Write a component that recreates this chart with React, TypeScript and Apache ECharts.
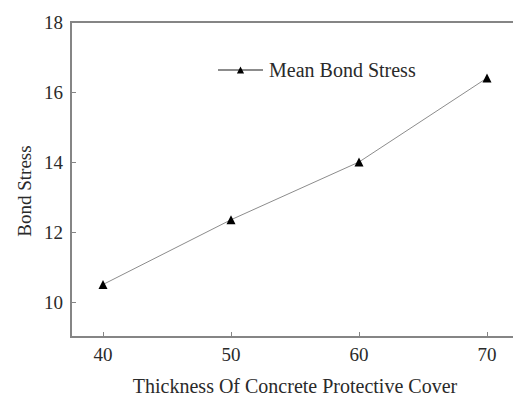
import React, { useEffect, useRef } from "react";
import * as echarts from "echarts";

// Mean bond stress vs. thickness of concrete protective cover
const thickness = [40, 50, 60, 70];
const bondStress = [10.5, 12.35, 14.0, 16.4];
const xTicks = [40, 50, 60, 70];
const yTicks = [10, 12, 14, 16, 18];
const seriesName = "Mean Bond Stress";
const xTitle = "Thickness Of Concrete Protective Cover";
const yTitle = "Bond Stress";

const FONT = "'Liberation Serif', 'Times New Roman', serif";
const AXIS_COLOR = "#858585";
const TEXT_COLOR = "#2a2a2a";

export default function App() {
  const ref = useRef<HTMLDivElement>(null);

  useEffect(() => {
    if (!ref.current) return;
    const chart = echarts.init(ref.current, undefined, { renderer: "svg" });
    chart.setOption({
      animation: false,
      backgroundColor: "#ffffff",
      grid: {
        left: 71,
        top: 22,
        right: 0,
        bottom: 59,
        show: true,
        borderColor: AXIS_COLOR,
        borderWidth: 2,
        backgroundColor: "transparent",
      },
      legend: {
        left: 217,
        top: 60,
        padding: 0,
        itemWidth: 45,
        itemHeight: 9,
        textStyle: { fontFamily: FONT, fontSize: 20, color: TEXT_COLOR, padding: [0, 0, 0, 1] },
        data: [seriesName],
      },
      xAxis: {
        type: "value",
        min: 37.5,
        max: 72.5,
        axisLine: { lineStyle: { color: AXIS_COLOR, width: 2 } },
        axisTick: {
          inside: true,
          length: 5,
          lineStyle: { color: AXIS_COLOR, width: 1 },
          customValues: xTicks,
        },
        axisLabel: {
          margin: 8,
          fontFamily: FONT,
          fontSize: 19,
          color: TEXT_COLOR,
          customValues: xTicks,
        },
        splitLine: { show: false },
      },
      yAxis: {
        type: "value",
        min: 9,
        max: 18,
        axisLine: { show: true, lineStyle: { color: AXIS_COLOR, width: 2 } },
        axisTick: {
          show: true,
          inside: true,
          length: 5,
          lineStyle: { color: AXIS_COLOR, width: 1 },
          customValues: yTicks,
        },
        axisLabel: {
          margin: 8,
          fontFamily: FONT,
          fontSize: 19,
          color: TEXT_COLOR,
          customValues: yTicks,
        },
        splitLine: { show: false },
      },
      graphic: [
        {
          type: "text",
          x: 295,
          y: 386,
          style: {
            text: xTitle,
            fontFamily: FONT,
            fontSize: 20,
            fill: TEXT_COLOR,
            textAlign: "center",
            textVerticalAlign: "middle",
          },
        },
        {
          type: "text",
          x: 24,
          y: 191,
          rotation: Math.PI / 2,
          style: {
            text: yTitle,
            fontFamily: FONT,
            fontSize: 19,
            fill: TEXT_COLOR,
            textAlign: "center",
            textVerticalAlign: "middle",
          },
        },
      ],
      series: [
        {
          name: seriesName,
          type: "line",
          data: thickness.map((t, i) => [t, bondStress[i]]),
          symbol: "triangle",
          symbolSize: 9,
          lineStyle: { color: "#8c8c8c", width: 1 },
          itemStyle: { color: "#000000" },
        },
      ],
    });
    return () => chart.dispose();
  }, []);

  // The plot box runs a few pixels past the right edge of the visible frame.
  return (
    <div
      style={{
        position: "absolute",
        left: 0,
        top: 0,
        width: 513,
        height: 396,
        overflow: "hidden",
      }}
    >
      <div ref={ref} style={{ width: 519, height: 396 }} />
    </div>
  );
}
